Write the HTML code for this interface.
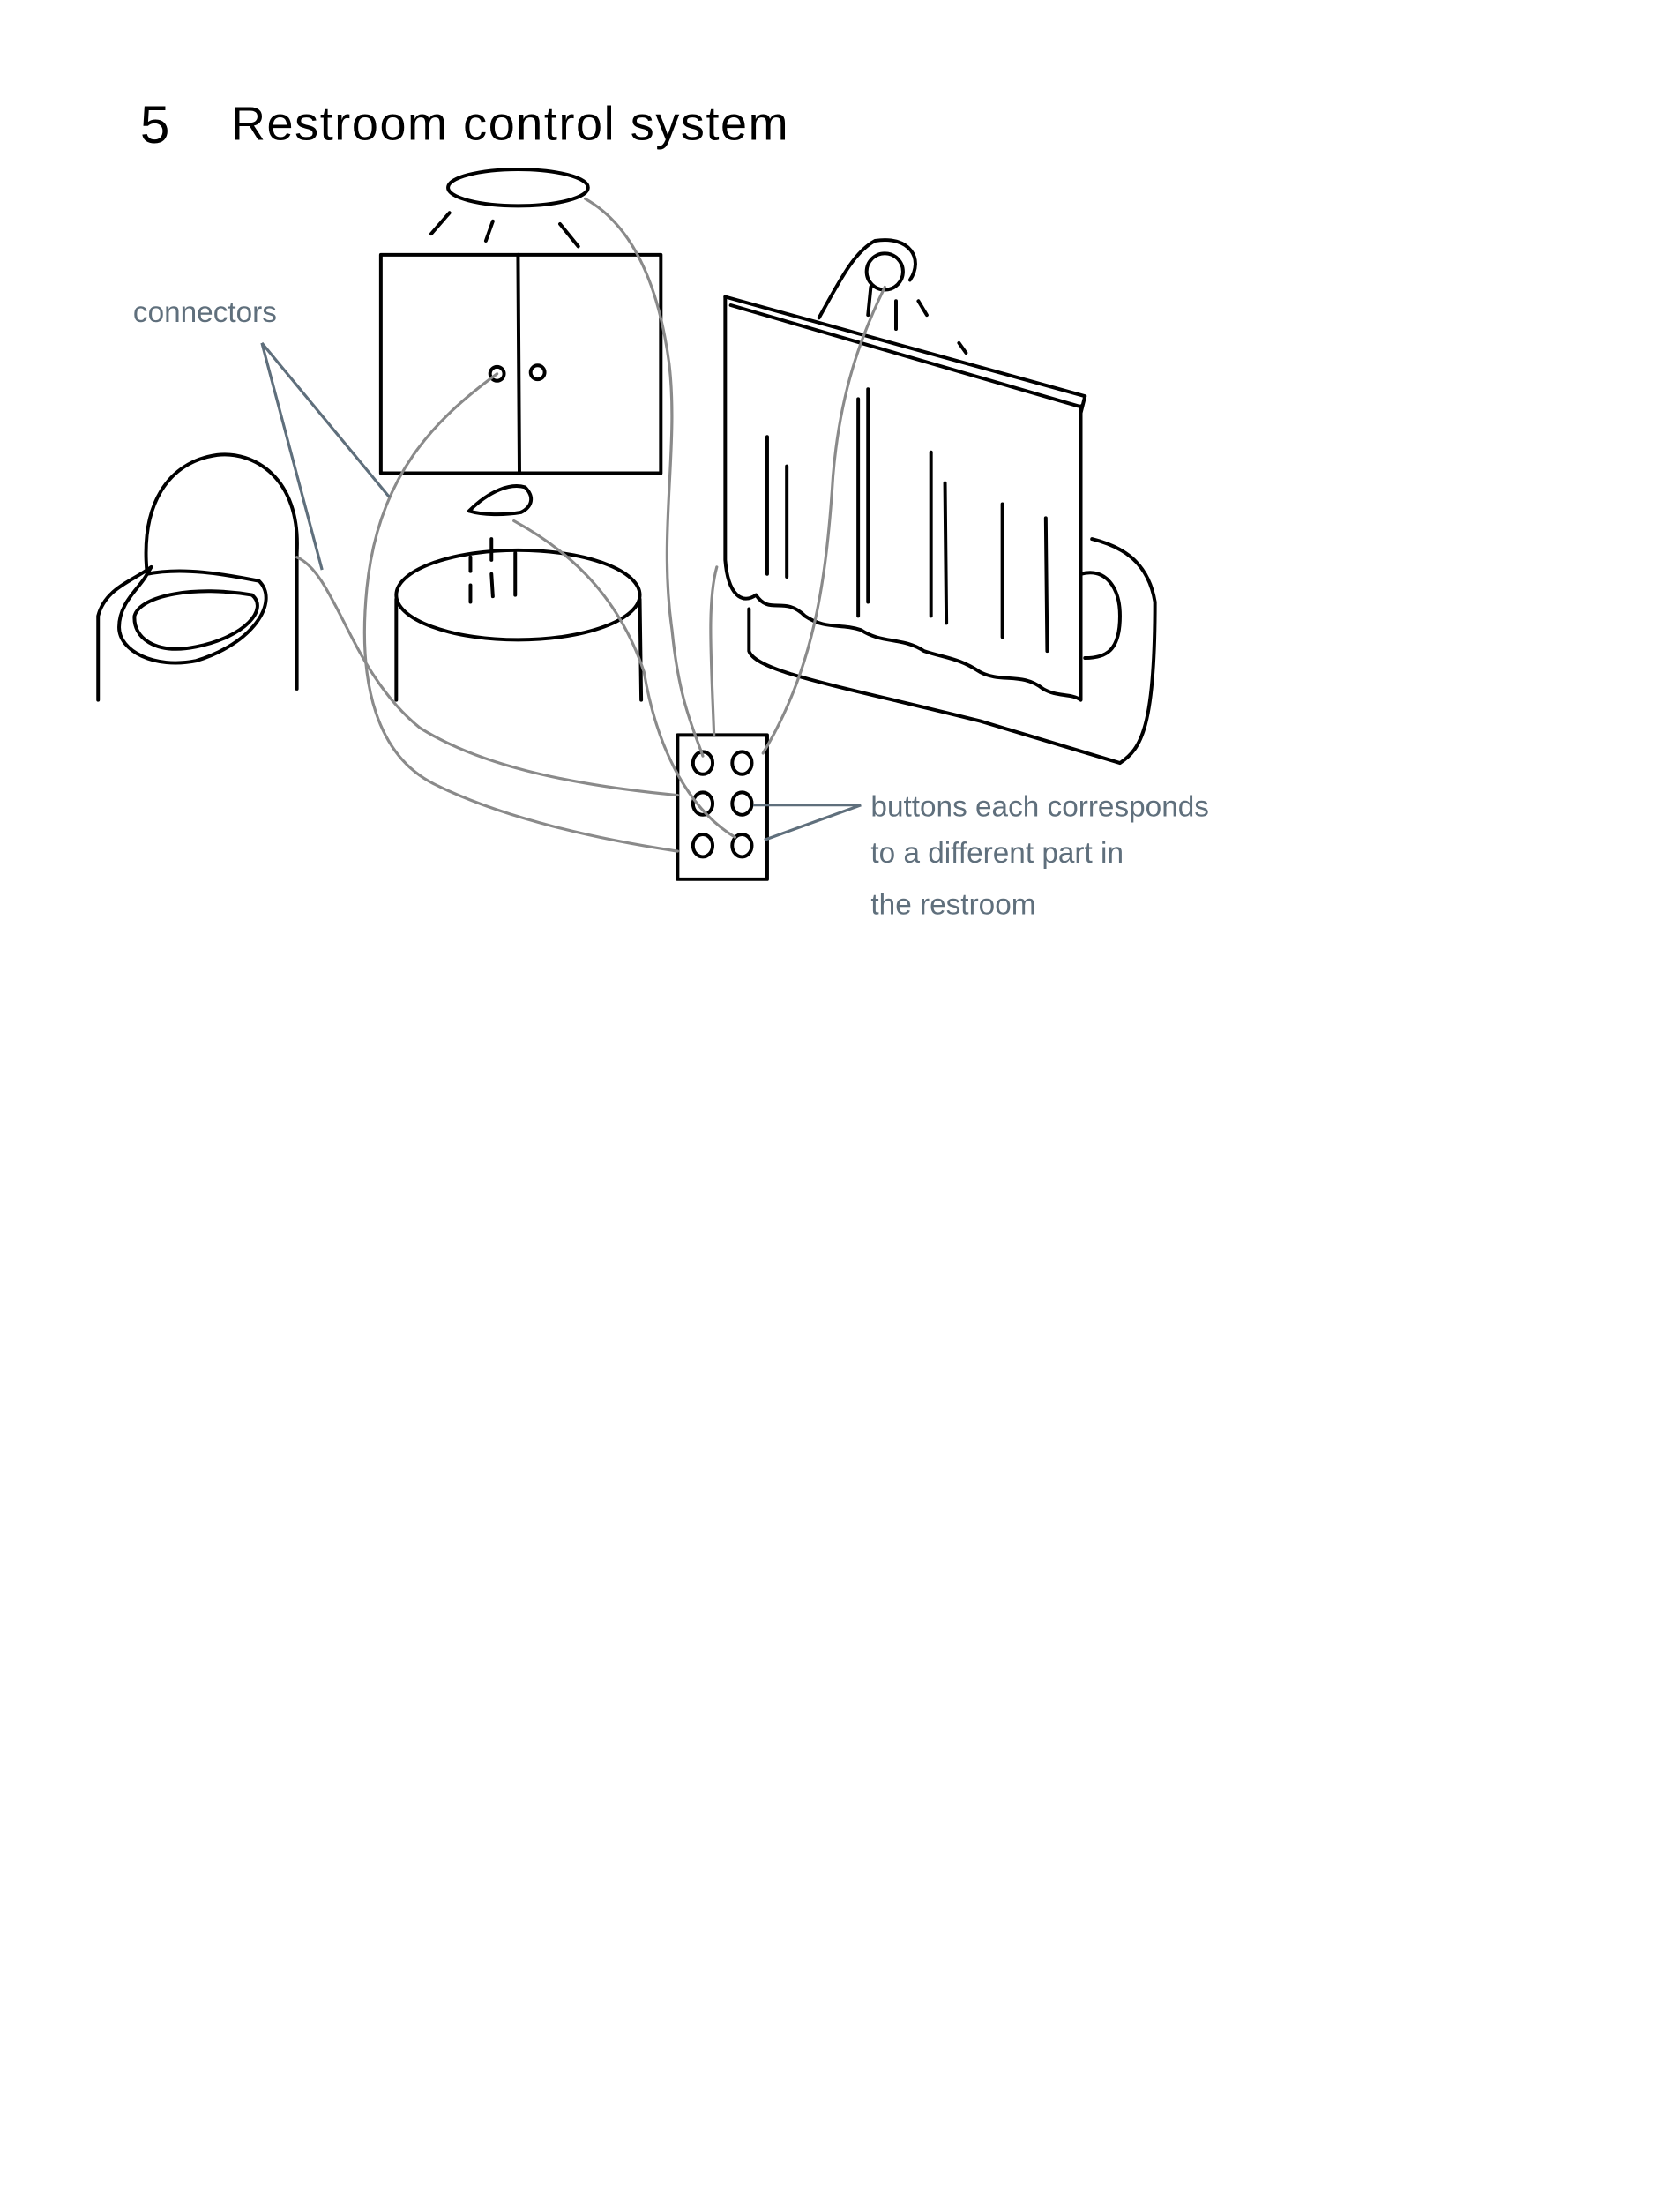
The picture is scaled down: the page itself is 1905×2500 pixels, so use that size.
<!DOCTYPE html>
<html><head><meta charset="utf-8"><style>
html,body{margin:0;padding:0;background:#fff;}
svg{display:block;}
</style></head><body>
<svg width="1905" height="2500" viewBox="0 0 1200 1575" xmlns="http://www.w3.org/2000/svg">
<rect width="1200" height="1575" fill="#fff"/>
<text x="100" y="102" font-family="Liberation Sans, sans-serif" font-size="38" fill="#000">5</text>
<text x="165" y="100" font-family="Liberation Sans, sans-serif" font-size="34" fill="#000" letter-spacing="1">Restroom  control  system</text>

<g fill="none" stroke="#000" stroke-width="2.5" stroke-linecap="round" stroke-linejoin="round">
<ellipse cx="370" cy="134" rx="50" ry="13"/>
<path d="M308 167 L321 152 M347 172 L352 158 M400 160 L413 176"/>
<rect x="272" y="182" width="200" height="156"/>
<path d="M370 182 L371 338"/>
<circle cx="355" cy="267" r="5"/><circle cx="384" cy="266" r="5"/>
<path d="M212 492 L212 395 C215 340 180 322 155 325 C120 330 100 360 105 410 L108 405 C95 415 75 420 70 440 L70 500"/>
<path d="M105 410 C130 405 160 410 185 415 C200 430 180 460 140 472 C110 478 85 465 85 448 C85 430 100 420 105 410"/>
<path d="M96 440 C100 425 140 418 180 425 C192 435 175 455 140 462 C110 468 95 455 96 440"/>
<ellipse cx="370" cy="425" rx="87" ry="32"/>
<path d="M283 428 L283 500 M457 428 L458 500"/>
<path d="M335 365 C350 350 365 345 375 348 C382 355 380 362 372 366 C360 368 345 368 335 365"/>
<path d="M336 398 L336 408 M336 418 L336 430 M351 385 L351 400 M351 410 L352 426 M368 395 L368 425"/>
<path d="M585 227 C600 200 610 180 625 172 C650 168 660 185 650 200"/>
<circle cx="632" cy="194" r="13"/>
<path d="M518 212 L775 283 L772 295"/>
<path d="M522 218 L770 290"/>
<path d="M518 212 L518 400 C520 425 530 432 540 425 C550 440 560 425 575 440 C590 450 600 445 615 450 C630 460 645 455 660 465 C675 470 685 470 700 480 C715 488 730 480 745 492 C755 498 765 495 772 500 L772 290"/>
<path d="M548 312 L548 410 M562 333 L562 412 M613 285 L613 440 M620 278 L620 430 M665 323 L665 440 M675 345 L676 445 M716 360 L716 455 M747 370 L748 465"/>
<path d="M535 435 L535 465 C540 480 600 490 700 515 L800 545 C815 535 825 520 825 430 C820 400 800 390 780 385"/>
<path d="M772 410 C790 405 800 420 800 440 C800 465 790 470 775 470"/>
<path d="M622 205 L620 225 M640 215 L640 235 M656 215 L662 225 M685 245 L690 252"/>
<rect x="484" y="525" width="64" height="103"/>
<ellipse cx="502" cy="545" rx="7" ry="8"/><ellipse cx="530" cy="545" rx="7" ry="8"/>
<ellipse cx="502" cy="574" rx="7" ry="8"/><ellipse cx="530" cy="574" rx="7" ry="8"/>
<ellipse cx="502" cy="604" rx="7" ry="8"/><ellipse cx="530" cy="604" rx="7" ry="8"/>
</g>

<g fill="none" stroke="#8a8a8a" stroke-width="2" stroke-linecap="round">
<path d="M418 142 C450 160 470 200 478 260 C485 320 470 380 480 450 C485 500 495 520 502 540"/>
<path d="M355 267 C310 300 270 340 262 420 C255 490 270 540 310 560 C360 585 430 600 484 608"/>
<path d="M212 398 C240 410 250 480 300 520 C340 545 400 560 484 568"/>
<path d="M367 372 C400 390 440 420 460 480 C470 540 495 580 525 598"/>
<path d="M632 205 C615 240 600 280 595 340 C590 420 580 480 545 538"/>
<path d="M512 405 C505 430 508 470 510 525"/>
</g>

<g fill="none" stroke="#5f6f7c" stroke-width="2">
<path d="M187 245 L278 355 M187 245 L230 407"/>
<path d="M538 575 L615 575 M546 600 L615 575"/>
</g>
<g font-family="Liberation Sans, sans-serif" fill="#5f6f7c" font-size="21">
<text x="95" y="230">connectors</text>
<text x="622" y="583">buttons each corresponds</text>
<text x="622" y="616">to a different part in</text>
<text x="622" y="653">the restroom</text>
</g>
</svg>
</body></html>
